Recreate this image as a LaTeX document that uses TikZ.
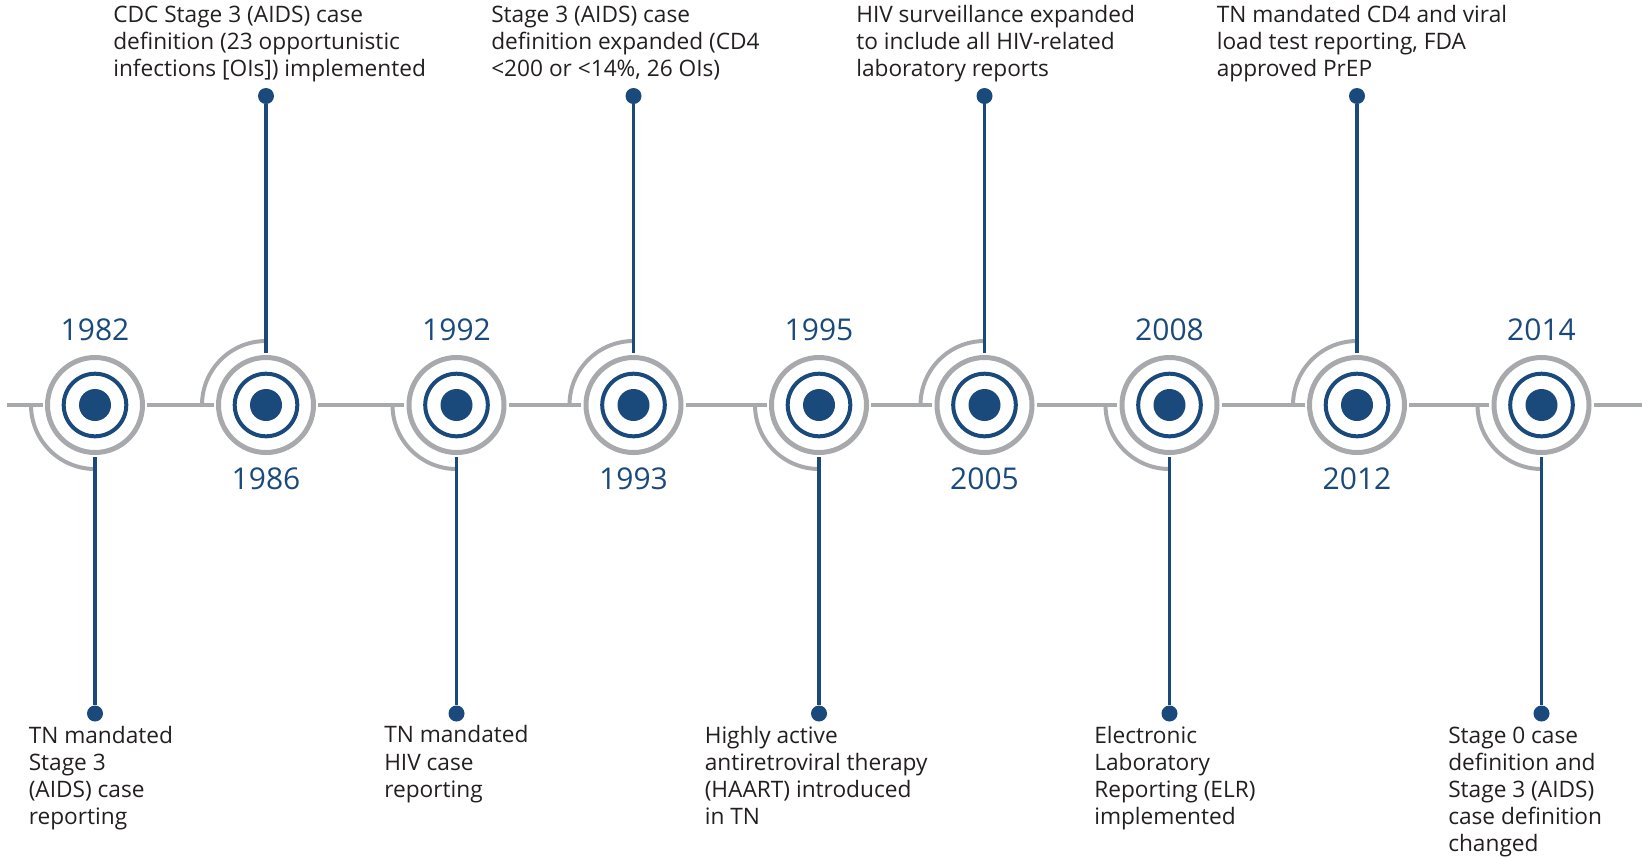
\documentclass[tikz,border=0pt]{standalone}
\usepackage{fontspec}
\setmainfont{Open Sans}
\usepackage{xcolor}
\definecolor{hivblue}{RGB}{26,74,124}
\definecolor{ringgrey}{RGB}{167,169,172}
\definecolor{notegrey}{RGB}{35,31,32}

\begin{document}
\begin{tikzpicture}[x=0.75pt,y=0.75pt,yscale=-1,xscale=1,
    axis/.style={draw=ringgrey, line width=3pt},
    hub/.style={circle, draw=ringgrey, line width=3.75pt, minimum size=71.25pt, inner sep=0pt, outer sep=3.4pt},
    innerring/.style={draw=hivblue, line width=3pt},
    halo/.style={draw=ringgrey, line width=3pt},
    stem/.style={draw=hivblue, line width=2.6pt},
    pin/.style={circle, fill=hivblue, minimum size=12pt, inner sep=0pt},
    yearlbl/.style={anchor=base, inner sep=0pt, text=hivblue, font=\fontsize{22.5}{27}\selectfont},
    note/.style={anchor=base west, inner sep=0pt, align=left, text=notegrey, font=\fontsize{17}{20.3}\selectfont}]
    \path[use as bounding box] (0,0) rectangle (1642,858);

    %Shape: Circle (hubs)
    \node[hub] (c1) at (95,405) {};
    \node[hub] (c2) at (266,405) {};
    \node[hub] (c3) at (456.5,405) {};
    \node[hub] (c4) at (633.5,405) {};
    \node[hub] (c5) at (819,405) {};
    \node[hub] (c6) at (984.5,405) {};
    \node[hub] (c7) at (1169.5,405) {};
    \node[hub] (c8) at (1357,405) {};
    \node[hub] (c9) at (1541.5,405) {};

    %Straight Lines (time axis)
    \coordinate (a0) at (7,405);
    \coordinate (a1) at (1642,405);
    \draw[axis] (a0) -- (c1) -- (c2) -- (c3) -- (c4) -- (c5) -- (c6) -- (c7) -- (c8) -- (c9) -- (a1);

    %Shape: Arc
    \draw[halo] ([shift={(180:64)}]c1.center) arc (180:90:64);
    \draw[halo] ([shift={(180:64)}]c2.center) arc (180:270:64);
    \draw[halo] ([shift={(180:64)}]c3.center) arc (180:90:64);
    \draw[halo] ([shift={(180:64)}]c4.center) arc (180:270:64);
    \draw[halo] ([shift={(180:64)}]c5.center) arc (180:90:64);
    \draw[halo] ([shift={(180:64)}]c6.center) arc (180:270:64);
    \draw[halo] ([shift={(180:64)}]c7.center) arc (180:90:64);
    \draw[halo] ([shift={(180:64)}]c8.center) arc (180:270:64);
    \draw[halo] ([shift={(180:64)}]c9.center) arc (180:90:64);

    %Shape: Circle (inner rings and dots)
    \draw[innerring] (c1) circle (31.3);  \fill[hivblue] (c1) circle (16);
    \draw[innerring] (c2) circle (31.3);  \fill[hivblue] (c2) circle (16);
    \draw[innerring] (c3) circle (31.3);  \fill[hivblue] (c3) circle (16);
    \draw[innerring] (c4) circle (31.3);  \fill[hivblue] (c4) circle (16);
    \draw[innerring] (c5) circle (31.3);  \fill[hivblue] (c5) circle (16);
    \draw[innerring] (c6) circle (31.3);  \fill[hivblue] (c6) circle (16);
    \draw[innerring] (c7) circle (31.3);  \fill[hivblue] (c7) circle (16);
    \draw[innerring] (c8) circle (31.3);  \fill[hivblue] (c8) circle (16);
    \draw[innerring] (c9) circle (31.3);  \fill[hivblue] (c9) circle (16);

    %Shape: Circle (pins)
    \node[pin] (p1) at (95,713.5) {};
    \node[pin] (p2) at (266,96) {};
    \node[pin] (p3) at (456.5,713.5) {};
    \node[pin] (p4) at (633.5,96) {};
    \node[pin] (p5) at (819,713.5) {};
    \node[pin] (p6) at (984.5,96) {};
    \node[pin] (p7) at (1169.5,713.5) {};
    \node[pin] (p8) at (1357,96) {};
    \node[pin] (p9) at (1541.5,713.5) {};

    %Straight Lines (stems)
    \draw[stem] (c1) -- (p1);
    \draw[stem] (c2) -- (p2);
    \draw[stem] (c3) -- (p3);
    \draw[stem] (c4) -- (p4);
    \draw[stem] (c5) -- (p5);
    \draw[stem] (c6) -- (p6);
    \draw[stem] (c7) -- (p7);
    \draw[stem] (c8) -- (p8);
    \draw[stem] (c9) -- (p9);

    % Text Node (years)
    \node[yearlbl] (y1) at (95,340) {1982};
    \node[yearlbl] (y2) at (266,489) {1986};
    \node[yearlbl] (y3) at (456.5,340) {1992};
    \node[yearlbl] (y4) at (633.5,489) {1993};
    \node[yearlbl] (y5) at (819,340) {1995};
    \node[yearlbl] (y6) at (984.5,489) {2005};
    \node[yearlbl] (y7) at (1169.5,340) {2008};
    \node[yearlbl] (y8) at (1357,489) {2012};
    \node[yearlbl] (y9) at (1541.5,340) {2014};

    % Text Node (events) -- anchored at the baseline of the last line
    \node[note] (n1) at (28.5,824.2) {TN mandated\\Stage 3\\(AIDS) case\\reporting};
    \node[note] (n2) at (113,76.6) {CDC Stage 3 (AIDS) case\\definition (23 opportunistic\\infections [OIs]) implemented};
    \node[note] (n3) at (384,797.1) {TN mandated\\HIV case\\reporting};
    \node[note] (n4) at (491,76.6) {Stage 3 (AIDS) case\\definition expanded (CD4\\<200 or <14\%, 26 OIs)};
    \node[note] (n5) at (704.5,824.2) {Highly active\\antiretroviral therapy\\(HAART) introduced\\in TN};
    \node[note] (n6) at (856,76.6) {HIV surveillance expanded\\to include all HIV-related\\laboratory reports};
    \node[note] (n7) at (1094,824.2) {Electronic\\Laboratory\\Reporting (ELR)\\implemented};
    \node[note] (n8) at (1216.5,76.6) {TN mandated CD4 and viral\\load test reporting, FDA\\approved PrEP};
    \node[note] (n9) at (1448,851.3) {Stage 0 case\\definition and\\Stage 3 (AIDS)\\case definition\\changed};

\end{tikzpicture}
\end{document}
